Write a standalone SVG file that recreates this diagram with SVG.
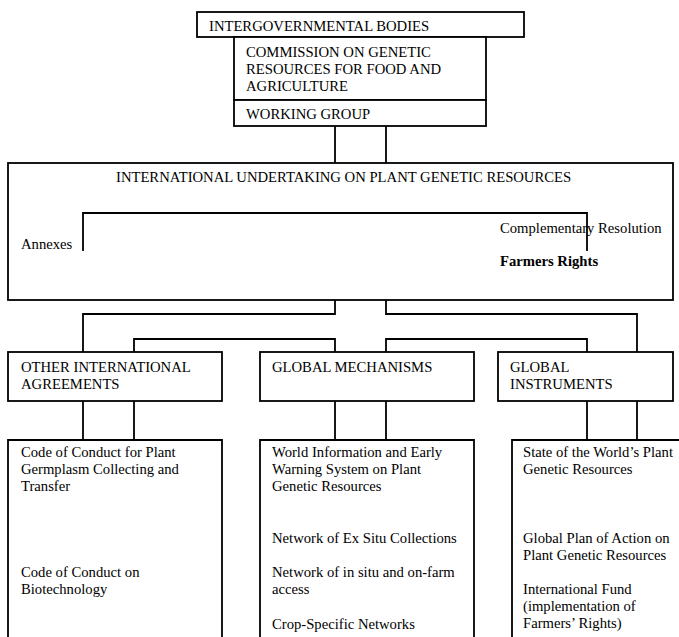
<svg xmlns="http://www.w3.org/2000/svg" width="679" height="637" viewBox="0 0 679 637">
<style>
.b{fill:#fff;stroke:#000;stroke-width:1.8}
.c{fill:none;stroke:#000;stroke-width:1.8}
.bold{font-weight:bold}
</style>
<rect width="679" height="637" fill="#fff"/>
<g id="connectors">
<path class="c" d="M335,126 V163 M386,126 V163"/>
<path class="c" d="M335,300 V314 H83 V352 M386,300 V314 H637 V352"/>
<path class="c" d="M134,352 V339 H335 V352 M386,352 V339 H587 V352"/>
<path class="c" d="M83,401 V440 M134,401 V440 M335,401 V440 M386,401 V440 M587,401 V440 M637,401 V440"/>
</g>
<g font-family="'Liberation Serif', 'Times New Roman', 'DejaVu Serif', serif" font-size="14.67" fill="#000">
<g id="intergovernmental">
<rect class="b" x="197" y="12" width="327" height="25"/>
<text x="209" y="31">INTERGOVERNMENTAL BODIES</text>
</g>
<g id="commission">
<rect class="b" x="234" y="37" width="252" height="63"/>
<text x="246" y="57">COMMISSION ON GENETIC</text>
<text x="246" y="74">RESOURCES FOR FOOD AND</text>
<text x="246" y="91">AGRICULTURE</text>
</g>
<g id="working-group">
<rect class="b" x="234" y="100" width="252" height="26"/>
<text x="246" y="119">WORKING GROUP</text>
</g>
<g id="undertaking">
<rect class="b" x="8" y="163" width="665" height="137"/>
<text x="116" y="182">INTERNATIONAL UNDERTAKING ON PLANT GENETIC RESOURCES</text>
<path class="c" d="M83,251 V213 H587 V251"/>
<text x="21" y="249">Annexes</text>
<text x="500" y="233">Complementary Resolution</text>
<text x="500" y="266" class="bold">Farmers Rights</text>
</g>
<g id="other-agreements">
<rect class="b" x="8" y="352" width="214" height="49"/>
<text x="21" y="372">OTHER INTERNATIONAL</text>
<text x="21" y="389">AGREEMENTS</text>
</g>
<g id="global-mechanisms">
<rect class="b" x="260" y="352" width="214" height="49"/>
<text x="272" y="372">GLOBAL MECHANISMS</text>
</g>
<g id="global-instruments">
<rect class="b" x="498" y="352" width="175" height="49"/>
<text x="510" y="372">GLOBAL</text>
<text x="510" y="389">INSTRUMENTS</text>
</g>
<g id="agreements-list">
<path class="c" d="M8,640 V440 H222 V640"/>
<text x="21" y="457">Code of Conduct for Plant</text>
<text x="21" y="474">Germplasm Collecting and</text>
<text x="21" y="491">Transfer</text>
<text x="21" y="577">Code of Conduct on</text>
<text x="21" y="594">Biotechnology</text>
</g>
<g id="mechanisms-list">
<path class="c" d="M260,640 V440 H474 V640"/>
<text x="272" y="457">World Information and Early</text>
<text x="272" y="474">Warning System on Plant</text>
<text x="272" y="491">Genetic Resources</text>
<text x="272" y="543">Network of Ex Situ Collections</text>
<text x="272" y="577">Network of in situ and on-farm</text>
<text x="272" y="594">access</text>
<text x="272" y="629">Crop-Specific Networks</text>
</g>
<g id="instruments-list">
<path class="c" d="M512,640 V440 H690"/>
<text x="523" y="457">State of the World’s Plant</text>
<text x="523" y="474">Genetic Resources</text>
<text x="523" y="543">Global Plan of Action on</text>
<text x="523" y="560">Plant Genetic Resources</text>
<text x="523" y="594">International Fund</text>
<text x="523" y="611">(implementation of</text>
<text x="523" y="628">Farmers’ Rights)</text>
</g>
</g>
</svg>
